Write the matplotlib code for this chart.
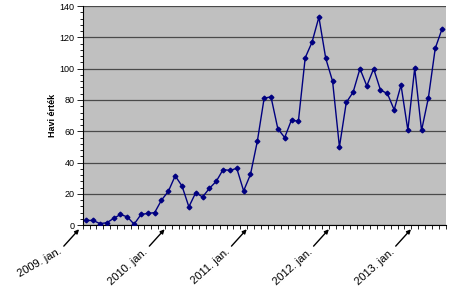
import numpy as np
import matplotlib
matplotlib.use("Agg")
import matplotlib.pyplot as plt
from matplotlib.ticker import MultipleLocator

# monthly values, 2009 jan .. 2013 may
values = [3, 3, 1, 1.5, 4.3, 6.8, 5.3, 0.6, 6.8, 7.5, 8, 16,
          21.6, 31.5, 25, 11.7, 20.7, 18, 23.5, 28, 35.5, 35, 36.3, 21.9,
          32.4, 53.5, 81.2, 82, 61.6, 56, 67.3, 66.3, 107, 117, 133, 106.6,
          92, 50, 78.4, 85, 100, 89, 100, 86.3, 84.2, 73.7, 89.5, 60.7,
          100.4, 60.5, 81.4, 113, 125.5]
year_labels = ["2009. jan.", "2010. jan.", "2011. jan.", "2012. jan.", "2013. jan."]
year_index = [0, 12, 24, 36, 48]
y_label = "Havi érték"

plt.rcParams['font.family'] = ['Liberation Sans', 'DejaVu Sans']

fig = plt.figure(figsize=(4.5, 2.92), dpi=100)
ax = fig.add_axes([0.184, 0.229, 0.806, 0.75])
ax.set_facecolor('#c0c0c0')

x = np.arange(len(values))
ax.plot(x, values, color='#000080', lw=1, marker='D', ms=2.4, zorder=3)

ax.set_xlim(-0.5, len(values) - 0.5)
ax.set_ylim(0, 140)
ax.yaxis.set_major_locator(MultipleLocator(20))
ax.yaxis.set_minor_locator(MultipleLocator(4))
ax.set_xticks(np.arange(-0.5, len(values), 1))
ax.set_xticklabels([])
ax.tick_params(axis='x', length=3, width=0.6, direction='out')
ax.tick_params(axis='y', which='major', length=4, width=0.6, labelsize=6.5, pad=2)
ax.tick_params(axis='y', which='minor', length=2, width=0.6)

ax.yaxis.grid(True, color='#4a4a4a', lw=0.9)
ax.get_ygridlines()[-1].set_visible(False)
ax.get_ygridlines()[0].set_visible(False)
ax.set_axisbelow(True)

for s in ['top', 'right']:
    ax.spines[s].set_visible(False)
for s in ['left', 'bottom']:
    ax.spines[s].set_linewidth(0.8)

ax.set_ylabel(y_label, fontsize=6.5, fontweight='bold', labelpad=2)

for lab, i in zip(year_labels, year_index):
    xi = i - 0.5 if i == 0 else i
    rot = 30 if i == 0 else 42
    ax.annotate('', xy=(xi, 0), xytext=(-19, -21), textcoords='offset pixels',
                arrowprops=dict(arrowstyle='-|>', color='black', lw=1,
                                mutation_scale=6, shrinkA=0, shrinkB=4),
                annotation_clip=False)
    ax.annotate(lab, xy=(xi, 0), xytext=(-22, -25), textcoords='offset pixels',
                ha='right', va='center', rotation=rot, rotation_mode='anchor',
                fontsize=8, annotation_clip=False)

fig.savefig('out.png', dpi=100)
